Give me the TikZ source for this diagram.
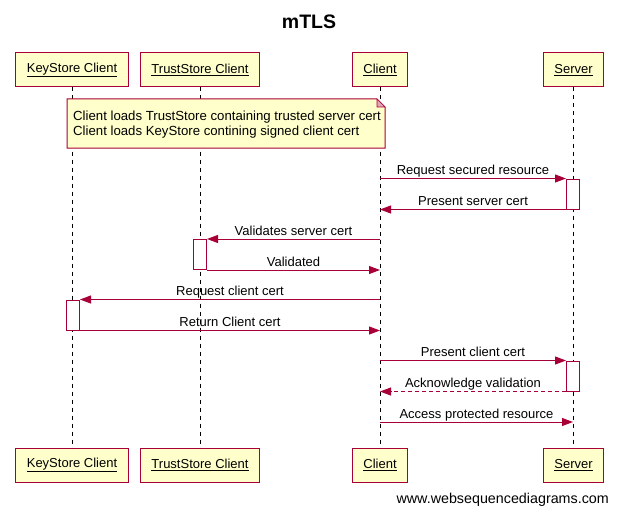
\documentclass[tikz,border=0pt]{standalone}
\usepackage{fontspec}
\setmainfont{Liberation Sans}
\usepackage{tikz}
\usepackage{xcolor}
\usetikzlibrary{arrows.meta}
\definecolor{wsdred}{HTML}{A80036}
\definecolor{wsdyellow}{HTML}{FFFFCC}

\begin{document}
\begin{tikzpicture}[x=1pt,y=-1pt,
                actor/.style={draw=wsdred, fill=wsdyellow, line width=1pt, minimum height=34pt, inner xsep=11pt, font=\fontsize{13}{15}\selectfont},
                act/.style={draw=wsdred, fill=white, line width=1pt, minimum width=13pt, minimum height=30pt, inner sep=0pt},
                msg/.style={draw=wsdred, line width=1pt, -{Triangle[length=11pt,width=8pt]}, font=\fontsize{13}{15}\selectfont},
                lbl/.style={anchor=base, yshift=4pt, inner sep=0pt, text=black},
                life/.style={dashed, dash pattern=on 4pt off 4pt, line width=0.8pt}]
                \useasboundingbox (0,0) rectangle (618,516);
                \node[font=\bfseries\fontsize{19.5}{22}\selectfont] (title) at (309,22) {mTLS};
                % participants
                \node[actor] (ks) at (72,70) {\underline{KeyStore Client}};
                \node[actor] (ts) at (200,70) {\underline{TrustStore Client}};
                \node[actor] (cl) at (380,70) {\underline{Client}};
                \node[actor] (sv) at (573.5,70) {\underline{Server}};
                \node[actor] (ksb) at (72,465) {\underline{KeyStore Client}};
                \node[actor] (tsb) at (200,465) {\underline{TrustStore Client}};
                \node[actor] (clb) at (380,465) {\underline{Client}};
                \node[actor] (svb) at (573.5,465) {\underline{Server}};
                \draw[life] (ks) -- (ksb);
                \draw[life] (ts) -- (tsb);
                \draw[life] (cl) -- (clb);
                \draw[life] (sv) -- (svb);
                % note
                \fill[wsdyellow] (67,99) -- (377,99) -- (385,107) -- (385,148) -- (67,148) -- cycle;
                \draw[wsdred, line width=1pt] (67,99) -- (377,99) -- (385,107) -- (385,148) -- (67,148) -- cycle;
                \filldraw[wsdred, fill=wsdred!35, line width=0.6pt] (377,99) -- (377,107) -- (385,107) -- cycle;
                \node[anchor=west, align=left, inner sep=0pt, font=\fontsize{13.2}{15.5}\selectfont] (note) at (73,124.5) {Client loads TrustStore containing trusted server cert\\Client loads KeyStore contining signed client cert};
                % activations
                \node[act] (a1) at (573,194) {};
                \node[act] (a2) at (200,254.5) {};
                \node[act] (a3) at (73,315) {};
                \node[act] (a4) at (573,376) {};
                % messages
                \draw[msg] (cl |- a1.north) -- (a1.north west) node[lbl, midway]{Request secured resource};
                \draw[msg] (a1.south west) -- (cl |- a1.south) node[lbl, midway]{Present server cert};
                \draw[msg] (cl |- a2.north) -- (a2.north east) node[lbl, midway]{Validates server cert};
                \draw[msg] (a2.south east) -- (cl |- a2.south) node[lbl, midway]{Validated};
                \draw[msg] (cl |- a3.north) -- (a3.north east) node[lbl, midway]{Request client cert};
                \draw[msg] (a3.south east) -- (cl |- a3.south) node[lbl, midway]{Return Client cert};
                \draw[msg] (cl |- a4.north) -- (a4.north west) node[lbl, midway]{Present client cert};
                \draw[msg, dashed, dash pattern=on 4pt off 3pt] (a4.south west) -- (cl |- a4.south) node[lbl, midway]{Acknowledge validation};
                \coordinate (sv6) at (573,422);
                \draw[msg] (cl |- sv6) -- (sv6) node[lbl, midway]{Access protected resource};
                \node[anchor=east, inner sep=0pt, font=\fontsize{14.3}{16}\selectfont] (wsd) at (609,500) {www.websequencediagrams.com};
            \end{tikzpicture}
\end{document}
